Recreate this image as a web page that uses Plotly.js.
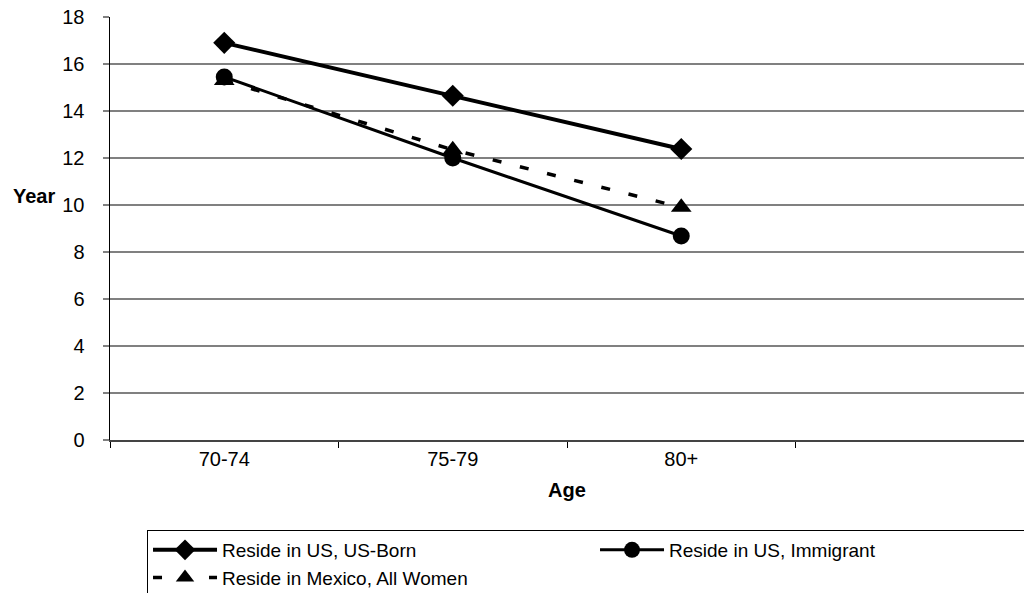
<!DOCTYPE html>
<html>
<head>
<meta charset="utf-8">
<script src="https://cdn.plot.ly/plotly-3.0.1.min.js"></script>
<style>html,body{margin:0;padding:0;background:#fff;}#chart{width:1024px;height:593px;}</style>
</head>
<body>
<div id="chart"></div>
<script>
const ageGroups = ['70-74', '75-79', '80+'];
const axisCategories = ['70-74', '75-79', '80+', ' '];
const usBorn = [16.9, 14.65, 12.38];
const immigrant = [15.45, 12.0, 8.68];
const mexicoAll = [15.3, 12.35, 9.9];
const seriesNames = ['Reside in US, US-Born', 'Reside in US, Immigrant', 'Reside in Mexico, All Women'];
const yTicks = [0, 2, 4, 6, 8, 10, 12, 14, 16, 18];

const FONT = 'Liberation Sans, Arial, sans-serif';

const traces = [
  {x: ageGroups, y: usBorn, name: seriesNames[0], type: 'scatter', mode: 'lines+markers',
   line: {color: '#000', width: 4}, marker: {symbol: 'diamond', size: 17, color: '#000'}},
  {x: ageGroups, y: immigrant, name: seriesNames[1], type: 'scatter', mode: 'lines+markers',
   line: {color: '#000', width: 3}, marker: {symbol: 'circle', size: 17, color: '#000'}},
  {x: ageGroups, y: mexicoAll, name: seriesNames[2], type: 'scatter', mode: 'lines+markers',
   line: {color: '#000', width: 3.5, dash: '9px,19px'}, marker: {symbol: 'triangle-up', size: 18, color: '#000'}}
];

const layout = {
  width: 1024, height: 593,
  margin: {l: 110, r: 0, t: 17, b: 153, autoexpand: false},
  paper_bgcolor: '#fff', plot_bgcolor: '#fff',
  font: {family: FONT, size: 20, color: '#000'},
  showlegend: true,
  xaxis: {
    type: 'category', categoryorder: 'array', categoryarray: axisCategories,
    range: [-0.5, 3.5], showgrid: false, zeroline: false, automargin: false,
    showline: true, linecolor: '#444', linewidth: 2,
    ticks: 'outside', tickson: 'boundaries', ticklen: 6, tickcolor: '#000', tickwidth: 1,
    tickfont: {family: FONT, size: 20, color: '#000'},
    title: {text: '<b>Age</b>', font: {family: FONT, size: 20, color: '#000'}, standoff: 14},
    fixedrange: true
  },
  yaxis: {
    range: [0, 18], tickvals: yTicks, ticktext: yTicks.map(String), automargin: false,
    showgrid: true, gridcolor: '#808080', gridwidth: 1.5, zeroline: false,
    showline: true, linecolor: '#000', linewidth: 1.5,
    ticks: 'outside', ticklen: 6, tickcolor: '#808080', tickwidth: 1.5,
    ticklabelstandoff: 14,
    tickfont: {family: FONT, size: 20, color: '#000'},
    fixedrange: true
  },
  annotations: [{
    text: '<b>Year</b>', xref: 'paper', yref: 'y', x: -0.083, y: 10.4,
    xanchor: 'center', yanchor: 'middle', showarrow: false,
    font: {family: FONT, size: 20, color: '#000'}
  }],
  legend: {
    orientation: 'h', x: 0.0405, xanchor: 'left', y: -0.2128, yanchor: 'top',
    bordercolor: '#000', borderwidth: 1, bgcolor: '#fff',
    entrywidth: 368, entrywidthmode: 'pixels', itemwidth: 64,
    font: {family: FONT, size: 19, color: '#000'},
    tracegroupgap: 0
  }
};

Plotly.newPlot('chart', traces, layout, {displayModeBar: false, staticPlot: true});
</script>
</body>
</html>
